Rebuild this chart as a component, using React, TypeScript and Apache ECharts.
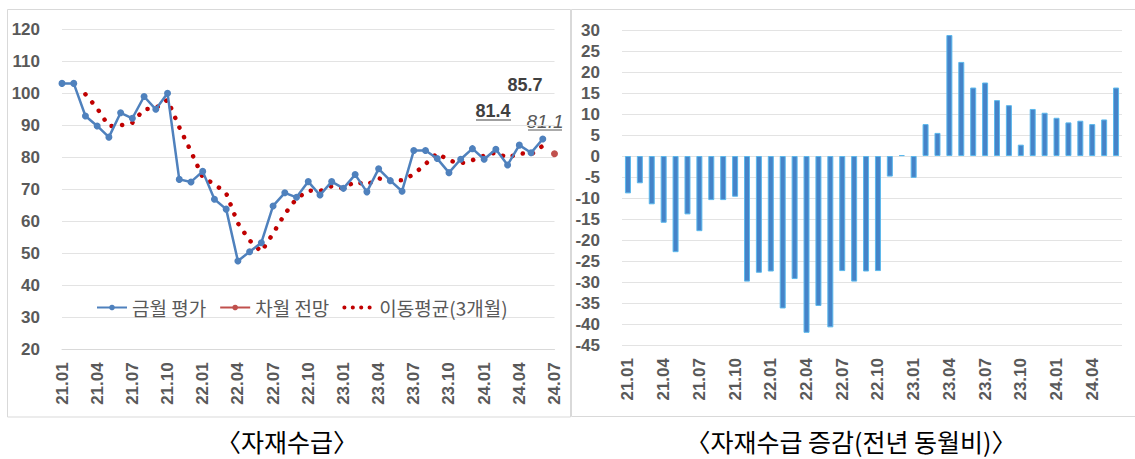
import React, { useEffect, useRef } from "react";
import * as echarts from "echarts";

const months = [
  "21.01", "21.02", "21.03", "21.04", "21.05", "21.06", "21.07", "21.08", "21.09", "21.10", "21.11", "21.12",
  "22.01", "22.02", "22.03", "22.04", "22.05", "22.06", "22.07", "22.08", "22.09", "22.10", "22.11", "22.12",
  "23.01", "23.02", "23.03", "23.04", "23.05", "23.06", "23.07", "23.08", "23.09", "23.10", "23.11", "23.12",
  "24.01", "24.02", "24.03", "24.04", "24.05", "24.06", "24.07",
];

const barMonths = [
  "21.01", "21.02", "21.03", "21.04", "21.05", "21.06", "21.07", "21.08", "21.09", "21.10", "21.11", "21.12",
  "22.01", "22.02", "22.03", "22.04", "22.05", "22.06", "22.07", "22.08", "22.09", "22.10", "22.11", "22.12",
  "23.01", "23.02", "23.03", "23.04", "23.05", "23.06", "23.07", "23.08", "23.09", "23.10", "23.11", "23.12",
  "24.01", "24.02", "24.03", "24.04", "24.05", "24.06",
];

const currentEval = [
  103.1, 103.1, 92.9, 89.8, 86.3, 93.9, 92.2, 99.0, 95.0, 100.0, 73.1, 72.3,
  75.6, 66.9, 63.8, 47.6, 50.5, 53.3, 64.8, 68.9, 67.5, 72.4, 68.2, 72.4,
  70.3, 74.6, 69.2, 76.4, 72.7, 69.4, 82.1, 82.1, 79.6, 75.2, 79.4, 82.7,
  79.4, 82.5, 77.6, 83.8, 81.4, 85.7, null,
];

const nextForecast = [
  null, null, null, null, null, null, null, null, null, null, null, null,
  null, null, null, null, null, null, null, null, null, null, null, null,
  null, null, null, null, null, null, null, null, null, null, null, null,
  null, null, null, null, null, null, 81.1,
];

const movingAvg3 = [
  null, null, 99.7, 95.3, 89.7, 90.0, 90.8, 95.0, 95.4, 98.0, 89.4, 81.8,
  73.7, 71.6, 68.8, 59.4, 54.0, 50.5, 56.2, 62.3, 67.1, 69.6, 69.4, 71.0,
  70.3, 72.4, 71.4, 73.4, 72.8, 72.8, 74.7, 77.9, 81.3, 79.0, 78.1, 79.1,
  80.5, 81.5, 79.8, 81.3, 80.9, 83.6, null,
];

const yoyChange = [
  -8.9, -6.5, -11.5, -15.9, -22.9, -13.9, -17.9, -10.5, -10.5, -9.7, -29.9, -27.8,
  -27.5, -36.3, -29.3, -42.1, -35.7, -40.8, -27.4, -29.9, -27.5, -27.4, -4.9, 0.2,
  -5.2, 7.6, 5.5, 28.8, 22.4, 16.3, 17.5, 13.3, 12.1, 2.7, 11.2, 10.3,
  9.1, 8.0, 8.4, 7.6, 8.7, 16.3,
];

const seriesNames = ["금월 평가", "차월 전망", "이동평균(3개월)"];
const titles = ["〈자재수급〉", "〈자재수급 증감(전년 동월비)〉"];
const annotations = ["85.7", "81.4", "81.1"];

const NUM_FONT = "'Liberation Sans', Arial, sans-serif";
const KR_FONT = "'Noto Sans CJK KR', sans-serif";
const LABEL_COLOR = "#595959";
const GRID_COLOR = "#E3E3E3";

export default function App() {
  const ref = useRef<HTMLDivElement>(null);

  useEffect(() => {
    if (!ref.current) return;
    const chart = echarts.init(ref.current, null, { renderer: "svg" });

    const yLabel = {
      fontFamily: NUM_FONT,
      fontSize: 17,
      fontWeight: "bold" as const,
      color: LABEL_COLOR,
      margin: 22,
    };
    const xLabel = {
      fontFamily: NUM_FONT,
      fontSize: 17,
      fontWeight: "bold" as const,
      color: LABEL_COLOR,
      rotate: 90,
      interval: 2,
      margin: 13,
    };

    const option: any = {
      animation: false,
      backgroundColor: "#ffffff",
      grid: [
        { left: 62, top: 29.3, width: 492.5, height: 320 },
        { left: 622, top: 30, width: 500, height: 315 },
      ],
      legend: {
        left: 91,
        top: 293,
        itemWidth: 30,
        itemHeight: 7,
        itemGap: 13,
        textStyle: { fontFamily: KR_FONT, fontSize: 19, color: LABEL_COLOR },
        data: [
          { name: seriesNames[0] },
          { name: seriesNames[1] },
          {
            name: seriesNames[2],
            itemStyle: { opacity: 0 },
            lineStyle: { width: 4, type: [0.1, 8.3], cap: "round", color: "#C00000" },
          },
        ],
      },
      xAxis: [
        {
          gridIndex: 0,
          type: "category",
          data: months,
          boundaryGap: false,
          axisTick: { show: false },
          axisLine: { lineStyle: { color: "#D9D9D9" } },
          axisLabel: xLabel,
        },
        {
          gridIndex: 1,
          type: "category",
          data: barMonths,
          boundaryGap: true,
          axisTick: { show: false },
          axisLine: { show: false, onZero: false },
          axisLabel: xLabel,
        },
      ],
      yAxis: [
        {
          gridIndex: 0,
          type: "value",
          min: 20,
          max: 120,
          interval: 10,
          axisLine: { show: false },
          axisTick: { show: false },
          splitLine: { lineStyle: { color: GRID_COLOR } },
          axisLabel: yLabel,
        },
        {
          gridIndex: 1,
          type: "value",
          min: -45,
          max: 30,
          interval: 5,
          axisLine: { show: false },
          axisTick: { show: false },
          splitLine: { lineStyle: { color: GRID_COLOR } },
          axisLabel: yLabel,
        },
      ],
      series: [
        {
          name: seriesNames[0],
          type: "line",
          xAxisIndex: 0,
          yAxisIndex: 0,
          data: currentEval,
          color: "#4F81BD",
          symbol: "circle",
          symbolSize: 7,
          lineStyle: { width: 2.5, color: "#4F81BD" },
          itemStyle: { color: "#4F81BD" },
          z: 3,
        },
        {
          name: seriesNames[1],
          type: "line",
          xAxisIndex: 0,
          yAxisIndex: 0,
          data: nextForecast,
          color: "#C0504D",
          symbol: "circle",
          symbolSize: 7,
          lineStyle: { width: 2.5, color: "#C0504D" },
          itemStyle: { color: "#C0504D" },
          z: 4,
        },
        {
          name: seriesNames[2],
          type: "line",
          xAxisIndex: 0,
          yAxisIndex: 0,
          data: movingAvg3,
          color: "#C00000",
          symbol: "none",
          lineStyle: { width: 4.5, color: "#C00000", type: [0.1, 10.5], cap: "round" },
          z: 2,
        },
        {
          name: "증감",
          type: "bar",
          xAxisIndex: 1,
          yAxisIndex: 1,
          data: yoyChange,
          barWidth: 6,
          itemStyle: { color: "#4583C8", borderColor: "#5BB8EC", borderWidth: 1 },
        },
      ],
      graphic: [
        {
          type: "rect",
          shape: { x: 7.5, y: 9.5, width: 563, height: 407.5 },
          style: { fill: "none", stroke: "#D9D9D9", lineWidth: 1 },
          silent: true,
          z: -10,
        },
        {
          type: "rect",
          shape: { x: 571.5, y: 9.5, width: 580, height: 407 },
          style: { fill: "none", stroke: "#D9D9D9", lineWidth: 1 },
          silent: true,
          z: -10,
        },
        {
          type: "text",
          x: 525,
          y: 85,
          style: {
            text: annotations[0],
            font: `bold 18px ${NUM_FONT}`,
            fill: "#404040",
            textAlign: "center",
            textVerticalAlign: "middle",
          },
        },
        {
          type: "text",
          x: 493,
          y: 111,
          style: {
            text: annotations[1],
            font: `bold 18px ${NUM_FONT}`,
            fill: "#404040",
            textAlign: "center",
            textVerticalAlign: "middle",
          },
        },
        {
          type: "line",
          shape: { x1: 476, y1: 120, x2: 511, y2: 120 },
          style: { stroke: "#404040", lineWidth: 1.2 },
        },
        {
          type: "text",
          x: 545,
          y: 121,
          style: {
            text: annotations[2],
            font: `italic 19px ${NUM_FONT}`,
            fill: "#595959",
            textAlign: "center",
            textVerticalAlign: "middle",
          },
        },
        {
          type: "line",
          shape: { x1: 528, y1: 130, x2: 562, y2: 130 },
          style: { stroke: "#595959", lineWidth: 1.2 },
        },
        {
          type: "text",
          x: 287,
          y: 441,
          style: {
            text: titles[0],
            font: `25px ${KR_FONT}`,
            fill: "#000000",
            textAlign: "center",
            textVerticalAlign: "middle",
          },
        },
        {
          type: "text",
          x: 851,
          y: 441,
          style: {
            text: titles[1],
            font: `25px ${KR_FONT}`,
            fill: "#000000",
            textAlign: "center",
            textVerticalAlign: "middle",
          },
        },
      ],
    };

    chart.setOption(option);
    return () => chart.dispose();
  }, []);

  return (
    <div
      ref={ref}
      style={{ position: "fixed", left: 0, top: 0, width: 1135, height: 459, background: "#fff" }}
    />
  );
}
